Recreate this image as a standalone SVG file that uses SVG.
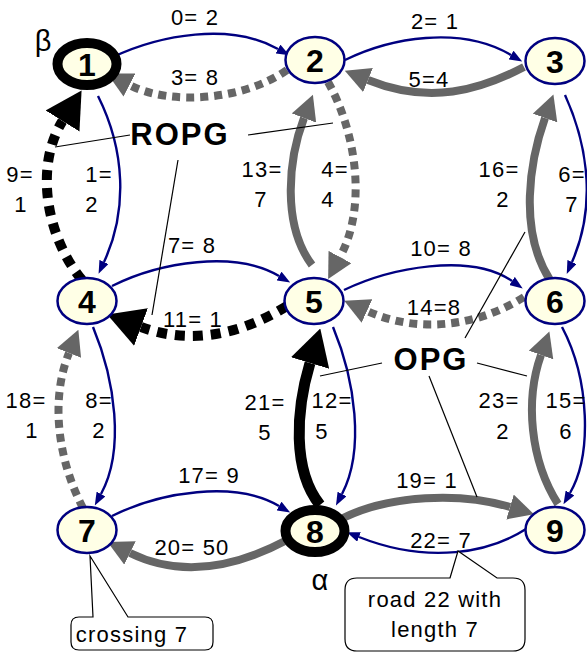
<svg xmlns="http://www.w3.org/2000/svg" width="587" height="653" viewBox="0 0 587 653">
<style>
.bg{fill:#ffffff}
.nav{fill:none;stroke:#000080;stroke-width:2.4}
.gs{fill:none;stroke:#666666;stroke-width:8}
.gd{fill:none;stroke:#666666;stroke-width:8;stroke-dasharray:8 6}
.bd{fill:none;stroke:#000000;stroke-width:10;stroke-dasharray:10 8}
.bs{fill:none;stroke:#000000;stroke-width:11}
.node{fill:#ffffe6;stroke:#000080;stroke-width:2.5}
.hub{fill:#ffffe6;stroke:#000000;stroke-width:10}
.nl{font-family:"Liberation Sans",Arial,sans-serif;font-weight:bold;font-size:32px;text-anchor:middle;fill:#000}
.el{font-family:"Liberation Sans",Arial,sans-serif;font-size:22px;letter-spacing:1.2px;text-anchor:middle;fill:#000}
.big{font-family:"Liberation Sans",Arial,sans-serif;font-weight:bold;font-size:31px;letter-spacing:2px;text-anchor:middle;fill:#000}
.gr{font-family:"Liberation Sans",Arial,sans-serif;font-size:29px;text-anchor:middle;fill:#000}
.thin{fill:none;stroke:#000;stroke-width:1.2}
.call{fill:#fff;stroke:#000;stroke-width:1.2}
</style>
<defs>
<marker id="an" markerUnits="userSpaceOnUse" markerWidth="13" markerHeight="10" viewBox="0 0 13 10" refX="0" refY="5" orient="auto"><path d="M0,0 L13,5 L0,10 z" fill="#000080"/></marker>
<marker id="ag" markerUnits="userSpaceOnUse" markerWidth="25" markerHeight="26" viewBox="0 0 25 26" refX="0" refY="13" orient="auto"><path d="M0,0 L25,13 L0,26 z" fill="#666666"/></marker>
<marker id="ab" markerUnits="userSpaceOnUse" markerWidth="36" markerHeight="40" viewBox="0 0 36 40" refX="0" refY="20" orient="auto"><path d="M0,0 L36,20 L0,40 z" fill="#000000"/></marker>
</defs>
<rect class="bg" x="0" y="0" width="587" height="653"/>
<g id="connectors">
<path id="e0" class="nav" d="M113,57 C160,35 230,22 278,49" marker-end="url(#an)"/>
<path id="e3" class="gd" d="M287,70 C245,100 170,106 129.5,85" marker-end="url(#ag)"/>
<path id="e2" class="nav" d="M345,60 C390,38 460,25 511,55" marker-end="url(#an)"/>
<path id="e5" class="gs" d="M524,67 C480,90 430,105 368,80" marker-end="url(#ag)"/>
<path id="e1" class="nav" d="M98,96 C125,150 128,210 104,262" marker-end="url(#an)"/>
<path id="e9" class="bd" d="M82,280 C45,235 35,165 62.5,121" marker-end="url(#ab)"/>
<path id="e13" class="gs" d="M312,265 C282,225 288,160 304,118" marker-end="url(#ag)"/>
<path id="e4" class="gd" d="M328,82 C355,130 368,205 340,257" marker-end="url(#ag)"/>
<path id="e16" class="gs" d="M550,280 C518,230 530,160 545,118" marker-end="url(#ag)"/>
<path id="e6" class="nav" d="M565,95 C590,150 595,210 572,262" marker-end="url(#an)"/>
<path id="e7" class="nav" d="M112,286 C160,262 235,250 279,276" marker-end="url(#an)"/>
<path id="e11" class="bd" d="M287,306 C240,335 190,345 141,327" marker-end="url(#ab)"/>
<path id="e10" class="nav" d="M344,290 C390,268 470,252 512,281" marker-end="url(#an)"/>
<path id="e14" class="gd" d="M524,297 C480,325 420,335 367,311" marker-end="url(#ag)"/>
<path id="e8" class="nav" d="M93,327 C115,380 125,450 101,494" marker-end="url(#an)"/>
<path id="e18" class="gd" d="M83,508 C58,460 50,400 69,353" marker-end="url(#ag)"/>
<path id="e21" class="bs" d="M320,505 C292,470 296,410 310,363" marker-end="url(#ab)"/>
<path id="e12" class="nav" d="M333,327 C355,380 365,450 342,494" marker-end="url(#an)"/>
<path id="e23" class="gs" d="M558,504 C530,460 525,400 541,355" marker-end="url(#ag)"/>
<path id="e15" class="nav" d="M562,327 C590,380 592,455 570,493" marker-end="url(#an)"/>
<path id="e17" class="nav" d="M112,516 C160,492 235,480 279,506" marker-end="url(#an)"/>
<path id="e20" class="gs" d="M287,540 C240,565 185,580 130,553" marker-end="url(#ag)"/>
<path id="e19" class="gs" d="M343,518 C390,495 460,492 510,507" marker-end="url(#ag)"/>
<path id="e22" class="nav" d="M526,529 C490,552 430,565 359,537" marker-end="url(#an)"/>
</g>
<g id="edge-labels">
<text class="el" x="195" y="25">0= 2</text>
<text class="el" x="195" y="85">3= 8</text>
<text class="el" x="435" y="29">2= 1</text>
<text class="el" x="429" y="87">5=4</text>
<text class="el" x="20" y="182">9=</text><text class="el" x="21" y="212">1</text>
<text class="el" x="99" y="182">1=</text><text class="el" x="92" y="212">2</text>
<text class="el" x="262" y="177">13=</text><text class="el" x="261" y="207">7</text>
<text class="el" x="335" y="177">4=</text><text class="el" x="328" y="207">4</text>
<text class="el" x="499" y="177">16=</text><text class="el" x="503" y="207">2</text>
<text class="el" x="572" y="182">6=</text><text class="el" x="572" y="212">7</text>
<text class="el" x="192" y="253">7= 8</text>
<text class="el" x="193" y="327">11= 1</text>
<text class="el" x="441" y="256">10= 8</text>
<text class="el" x="434" y="315">14=8</text>
<text class="el" x="26" y="408">18=</text><text class="el" x="32" y="438">1</text>
<text class="el" x="99" y="408">8=</text><text class="el" x="99" y="438">2</text>
<text class="el" x="265" y="410">21=</text><text class="el" x="265" y="440">5</text>
<text class="el" x="332" y="408">12=</text><text class="el" x="322" y="439">5</text>
<text class="el" x="499" y="408">23=</text><text class="el" x="503" y="439">2</text>
<text class="el" x="566" y="408">15=</text><text class="el" x="566" y="439">6</text>
<text class="el" x="209" y="483">17= 9</text>
<text class="el" x="192" y="555">20= 50</text>
<text class="el" x="427" y="488">19= 1</text>
<text class="el" x="441" y="548">22= 7</text>
</g>
<g id="n1"><ellipse class="hub" cx="87" cy="64" rx="29.5" ry="21"/><text class="nl" x="87" y="76">1</text></g>
<g id="n2"><ellipse class="node" cx="315" cy="60" rx="29.5" ry="23"/><text class="nl" x="315" y="72">2</text></g>
<g id="n3"><ellipse class="node" cx="555" cy="61" rx="29.5" ry="23"/><text class="nl" x="555" y="73">3</text></g>
<g id="n4"><ellipse class="node" cx="87" cy="301" rx="29.5" ry="23"/><text class="nl" x="87" y="313">4</text></g>
<g id="n5"><ellipse class="node" cx="314" cy="301" rx="29.5" ry="23"/><text class="nl" x="314" y="313">5</text></g>
<g id="n6"><ellipse class="node" cx="555" cy="301" rx="29.5" ry="23"/><text class="nl" x="555" y="313">6</text></g>
<g id="n7"><ellipse class="node" cx="87" cy="530" rx="29.5" ry="23"/><text class="nl" x="87" y="542">7</text></g>
<g id="n8"><ellipse class="hub" cx="315" cy="531" rx="29.5" ry="21"/><text class="nl" x="315" y="543">8</text></g>
<g id="n9"><ellipse class="node" cx="555" cy="530" rx="29.5" ry="23"/><text class="nl" x="555" y="542">9</text></g>
<g id="greek">
<text class="gr" x="43" y="51">β</text>
<text class="gr" x="320" y="590">α</text>
</g>
<g id="ropg">
<line class="thin" x1="130" y1="135" x2="55" y2="147"/>
<line class="thin" x1="248" y1="135" x2="333" y2="123"/>
<line class="thin" x1="178" y1="160" x2="152" y2="315"/>
<text class="big" x="180" y="145">ROPG</text>
</g>
<g id="opg">
<line class="thin" x1="382" y1="363" x2="320" y2="376"/>
<line class="thin" x1="477" y1="363" x2="527" y2="376"/>
<line class="thin" x1="465" y1="338" x2="525" y2="232"/>
<line class="thin" x1="429" y1="376" x2="477" y2="497"/>
<text class="big" x="431" y="370">OPG</text>
</g>
<g id="callout-crossing">
<path class="call" d="M93,617 L90,556 L128,617 L205,617 Q213,617 213,625 L213,642 Q213,650 205,650 L79,650 Q71,650 71,642 L71,625 Q71,617 79,617 Z"/>
<text class="el" x="132" y="642">crossing 7</text>
</g>
<g id="callout-road">
<path class="call" d="M450,578 L458,551 L497,578 L513,578 Q525,578 525,590 L525,639 Q525,651 513,651 L357,651 Q345,651 345,639 L345,590 Q345,578 357,578 Z"/>
<text class="el" x="435" y="607">road 22 with</text>
<text class="el" x="435" y="637">length 7</text>
</g>
</svg>
